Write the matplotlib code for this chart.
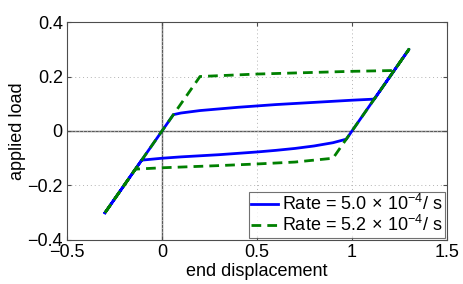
import matplotlib
matplotlib.use("Agg")
import matplotlib.pyplot as plt
import numpy as np

plt.rcParams['font.family'] = ['Liberation Sans', 'DejaVu Sans']
plt.rcParams['mathtext.fontset'] = 'custom'
plt.rcParams['mathtext.rm'] = 'Liberation Sans'
plt.rcParams['mathtext.it'] = 'Liberation Sans:italic'

# rate 5.0e-4 loop
xBlue = [-0.3, 0.06, 0.1, 0.2, 0.3, 0.4, 0.5, 0.6, 0.7, 0.8, 0.9, 1.0, 1.117, 1.3,
         0.97, 0.9, 0.8, 0.7, 0.6, 0.5, 0.4, 0.3, 0.2, 0.1, 0.0, -0.107, -0.3]
yBlue = [-0.3, 0.06, 0.066, 0.075, 0.081, 0.087, 0.092, 0.097, 0.101, 0.105, 0.109, 0.113, 0.117, 0.3,
         -0.03, -0.043, -0.055, -0.064, -0.071, -0.077, -0.082, -0.087, -0.091, -0.095, -0.100, -0.107, -0.3]

# rate 5.2e-4 loop
xGreen = [-0.3, 0.2, 0.5, 0.8, 1.0, 1.222, 1.3,
          0.9, 0.7, 0.5, 0.3, 0.0, -0.14, -0.3]
yGreen = [-0.3, 0.2, 0.209, 0.215, 0.219, 0.222, 0.3,
          -0.1, -0.114, -0.121, -0.127, -0.135, -0.14, -0.3]

fig = plt.figure(figsize=(4.63, 2.84), dpi=100)
ax = fig.add_axes([0.1447, 0.155, 0.8207, 0.7675])

ax.axhline(0, color='0.35', lw=1, zorder=1)
ax.axvline(0, color='0.35', lw=1, zorder=1)

ax.plot(xBlue, yBlue, color='#0000ff', lw=2, label=r'Rate = 5.0$\,\times\,10^{-4}$/ s', zorder=3)
ax.plot(xGreen, yGreen, color='#008000', lw=2, ls=(0, (3.5, 2.2)),
        label=r'Rate = 5.2$\,\times\,10^{-4}$/ s', zorder=4)

ax.set_xlim(-0.5, 1.5)
ax.set_ylim(-0.4, 0.4)
ax.set_xticks(np.arange(-0.5, 1.51, 0.5))
ax.set_yticks(np.arange(-0.4, 0.41, 0.2))
ax.set_xticklabels(['\u22120.5', '0', '0.5', '1', '1.5'])
ax.set_yticklabels(['\u22120.4', '\u22120.2', '0', '0.2', '0.4'])
ax.grid(True, ls=(0, (1, 3)), color='0.7', lw=0.7)
ax.tick_params(direction='in', top=True, right=True, labelsize=13, length=3, color='0.3', pad=3)
for s in ax.spines.values():
    s.set_color('0.3')
    s.set_linewidth(0.8)

ax.set_xlabel('end displacement', size=13, labelpad=1)
ax.set_ylabel('applied load', size=13, labelpad=1)

leg = ax.legend(loc='lower right', fontsize=13, handlelength=1.5, handletextpad=0.2,
                borderaxespad=0.1, borderpad=0.15, labelspacing=0.05, fancybox=False)
leg.get_frame().set_edgecolor('0.3')
leg.get_frame().set_linewidth(0.8)

plt.savefig('out.png', dpi=100)
